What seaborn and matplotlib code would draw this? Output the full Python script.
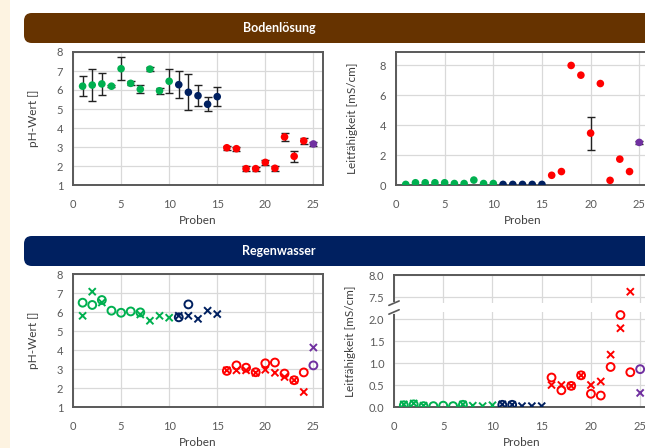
import matplotlib
matplotlib.use('Agg')
import matplotlib.pyplot as plt
from matplotlib.patches import FancyBboxPatch, Rectangle
import numpy as np
import pandas as pd
import seaborn as sns

sns.set_style('whitegrid')
plt.rcParams['font.family'] = ['Lato', 'DejaVu Sans']

# --- data ---
proben = list(range(1, 26))

# Bodenloesung
boden_ph = [6.2, 6.26, 6.32, 6.2, 7.12, 6.35, 6.04, 7.1, 5.96, 6.46,
            6.28, 5.88, 5.7, 5.25, 5.65,
            2.96, 2.91, 1.86, 1.86, 2.19, 1.88, 3.53, 2.51, 3.32,
            3.16]
boden_ph_err = [0.53, 0.83, 0.6, 0.05, 0.6, 0.1, 0.22, 0.12, 0.15, 0.63,
                0.7, 0.95, 0.55, 0.36, 0.5,
                0.1, 0.1, 0.12, 0.1, 0.15, 0.12, 0.2, 0.29, 0.15,
                0.12]
boden_lf = [0.04, 0.15, 0.15, 0.15, 0.15, 0.1, 0.1, 0.33, 0.1, 0.1,
            0.04, 0.04, 0.04, 0.04, 0.04,
            0.65, 0.9, 8.0, 7.35, 3.47, 6.79, 0.31, 1.73, 0.9,
            2.85]
boden_lf_err = [0, 0, 0, 0, 0, 0, 0, 0, 0, 0,
                0, 0, 0, 0, 0,
                0, 0, 0, 0, 1.1, 0, 0, 0, 0,
                0.1]

# Regenwasser, circles
rain_o_probe = [1, 2, 3, 4, 5, 6, 7, 11, 12,
                16, 17, 18, 19, 20, 21, 22, 23, 24, 25]
rain_o_ph = [6.49, 6.37, 6.63, 6.07, 5.96, 6.03, 5.98, 5.72, 6.4,
             2.9, 3.19, 3.07, 2.83, 3.3, 3.34, 2.76, 2.41, 2.82, 3.19]
rain_o_lf = [0.04, 0.06, 0.02, 0.02, 0.03, 0.02, 0.05, 0.05, 0.05,
             0.67, 0.38, 0.48, 0.72, 0.3, 0.26, 0.91, 2.09, 0.79, 0.86]

# Regenwasser, crosses
rain_x_probe = [1, 2, 3, 7, 8, 9, 10, 11, 12, 13, 14, 15,
                16, 17, 18, 19, 20, 21, 22, 23, 24, 25]
rain_x_ph = [5.8, 7.07, 6.5, 5.87, 5.54, 5.8, 5.7, 5.8, 5.8, 5.64, 6.07, 5.89,
             2.93, 2.93, 2.93, 2.8, 2.96, 2.8, 2.58, 2.41, 1.79, 4.13]
rain_x_lf = [0.06, 0.08, 0.03, 0.06, 0.03, 0.02, 0.04, 0.06, 0.05, 0.02, 0.02, 0.02,
             0.5, 0.5, 0.48, 0.72, 0.5, 0.58, 1.19, 1.79, 7.62, 0.32]

lf_ticks = [0.0, 0.5, 1.0, 1.5, 2.0, 7.5, 8.0]

pal = {'A': '#00B050', 'B': '#002060', 'C': '#FF0000', 'D': '#7030A0'}


def gruppe(n):
    if n <= 10:
        return 'A'
    if n <= 15:
        return 'B'
    if n <= 24:
        return 'C'
    return 'D'


def squash(v):
    # broken axis: values above the break move down by 5
    return v - 5.0 if v > 5 else v


df_boden = pd.DataFrame({'probe': proben, 'ph': boden_ph, 'ph_err': boden_ph_err,
                         'lf': boden_lf, 'lf_err': boden_lf_err})
df_boden['grp'] = df_boden['probe'].map(gruppe)

df_o = pd.DataFrame({'probe': rain_o_probe, 'ph': rain_o_ph, 'lf': rain_o_lf})
df_o['grp'] = df_o['probe'].map(gruppe)
df_o['lf_plot'] = df_o['lf'].map(squash)

df_x = pd.DataFrame({'probe': rain_x_probe, 'ph': rain_x_ph, 'lf': rain_x_lf})
df_x['grp'] = df_x['probe'].map(gruppe)
df_x['lf_plot'] = df_x['lf'].map(squash)

W, H = 645, 448
fig = plt.figure(figsize=(W / 100, H / 100), dpi=100)
fig.patch.set_facecolor('white')

# cream strip on the left
fig.patches.append(Rectangle((0, 0), 10 / W, 1, transform=fig.transFigure,
                             facecolor='#FDF3E1', edgecolor='none'))


def banner(top, bottom, color, text):
    fig.patches.append(FancyBboxPatch((24 / W, 1 - bottom / H), 700 / W, (bottom - top) / H,
                                      boxstyle='round,pad=0,rounding_size=0.012',
                                      transform=fig.transFigure, facecolor=color,
                                      edgecolor='none', mutation_aspect=W / H))
    fig.text(279 / W, 1 - (top + bottom) / 2 / H, text, color='white', fontsize=9,
             fontweight='bold', ha='center', va='center')


banner(13, 43, '#663300', 'Bodenlösung')
banner(236, 266, '#002060', 'Regenwasser')


def make_ax(l, t, r, b):
    return fig.add_axes([l / W, 1 - b / H, (r - l) / W, (b - t) / H])


def style(ax, ylabel, ylabelpad):
    ax.set_xlim(0, 26)
    ax.set_xticks(range(0, 26, 5))
    ax.grid(True, color='#d9d9d9', lw=0.9)
    ax.set_axisbelow(True)
    for sp in ax.spines.values():
        sp.set_color('#595959')
        sp.set_linewidth(1.4)
    ax.tick_params(length=0, labelsize=8, labelcolor='#595959')
    ax.tick_params(axis='x', pad=10)
    ax.tick_params(axis='y', pad=7)
    ax.set_xlabel('Proben', fontsize=8.5, color='#404040', labelpad=4)
    ax.set_ylabel(ylabel, fontsize=8.5, color='#404040', labelpad=ylabelpad)


# top left: pH Bodenloesung
ax1 = make_ax(73, 52, 323, 185)
ax1.errorbar(df_boden['probe'], df_boden['ph'], yerr=df_boden['ph_err'], fmt='none',
             ecolor='#222222', elinewidth=1, capsize=3, capthick=1, zorder=2)
sns.scatterplot(data=df_boden, x='probe', y='ph', hue='grp', palette=pal, s=30,
                linewidth=0, legend=False, ax=ax1, zorder=3)
ax1.set_ylim(1, 8)
ax1.set_yticks(range(1, 9))
style(ax1, 'pH-Wert []', 13)

# top right: Leitfaehigkeit Bodenloesung
ax2 = make_ax(396, 52, 649, 185)
err = df_boden[df_boden['lf_err'] > 0]
ax2.errorbar(err['probe'], err['lf'], yerr=err['lf_err'], fmt='none',
             ecolor='#222222', elinewidth=1, capsize=3, capthick=1, zorder=2)
sns.scatterplot(data=df_boden, x='probe', y='lf', hue='grp', palette=pal, s=30,
                linewidth=0, legend=False, ax=ax2, zorder=3)
ax2.set_ylim(0, 8.9)
ax2.set_yticks([0, 2, 4, 6, 8])
style(ax2, 'Leitfähigkeit [mS/cm]', 16)

# bottom left: pH Regenwasser
ax3 = make_ax(73, 274, 323, 407)
for g, sub in df_o.groupby('grp'):
    sns.scatterplot(data=sub, x='probe', y='ph', marker='o', s=32, facecolors='none',
                    edgecolor=pal[g], linewidth=1.4, color=pal[g], ax=ax3, zorder=3)
sns.scatterplot(data=df_x, x='probe', y='ph', hue='grp', palette=pal, marker='x',
                s=26, linewidth=1.4, legend=False, ax=ax3, zorder=3)
ax3.set_ylim(1, 8)
ax3.set_yticks(range(1, 9))
style(ax3, 'pH-Wert []', 13)

# bottom right: Leitfaehigkeit Regenwasser with broken axis
ax4 = make_ax(394, 275, 650, 407)
for g, sub in df_o.groupby('grp'):
    sns.scatterplot(data=sub, x='probe', y='lf_plot', marker='o', s=32, facecolors='none',
                    edgecolor=pal[g], linewidth=1.4, color=pal[g], ax=ax4, zorder=3)
sns.scatterplot(data=df_x, x='probe', y='lf_plot', hue='grp', palette=pal, marker='x',
                s=26, linewidth=1.4, legend=False, ax=ax4, zorder=3)
ax4.set_ylim(0, 3.0)
ax4.set_yticks([squash(v) for v in lf_ticks])
ax4.set_yticklabels([f'{v:.1f}' for v in lf_ticks])
style(ax4, 'Leitfähigkeit [mS/cm]', 9)
ax4.axhspan(2.16, 2.36, color='white', lw=0, zorder=1)
tr = ax4.get_yaxis_transform()
ax4.plot([0, 0], [2.17, 2.35], color='white', lw=3, transform=tr, clip_on=False, zorder=4)
for yb in (2.16, 2.36):
    ax4.plot([-0.02, 0.02], [yb - 0.05, yb + 0.05], color='#595959', lw=1.2,
             transform=tr, clip_on=False, zorder=5)

fig.savefig('out.png', dpi=100)
